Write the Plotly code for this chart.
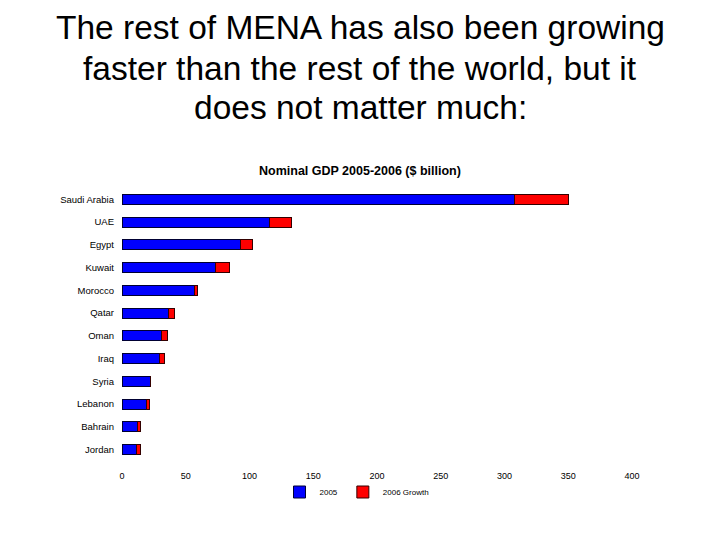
import plotly.graph_objects as go

countries = ["Saudi Arabia", "UAE", "Egypt", "Kuwait", "Morocco", "Qatar",
             "Oman", "Iraq", "Syria", "Lebanon", "Bahrain", "Jordan"]
gdp_2005 = [307.5, 116, 92.8, 73.4, 56.5, 36.6, 31, 29.8, 22.5, 19.1, 12, 11.5]
growth_2006 = [42.5, 17, 9.9, 11, 2.5, 4.6, 4.8, 3.6, 0.2, 2.3, 2.4, 2.9]
x_ticks = [0, 50, 100, 150, 200, 250, 300, 350, 400]
title_lines = ["The rest of MENA has also been growing",
               "faster than the rest of the world, but it",
               "does not matter much:"]

FONT = "Arial, Liberation Sans, sans-serif"
W, H = 712, 532
ML, MR, MT, MB = 114, 88, 180, 79
plot_h = H - MT - MB

fig = go.Figure()
fig.add_trace(go.Bar(
    y=countries, x=gdp_2005, orientation="h", name="2005",
    marker=dict(color="#0000FF", line=dict(color="#000033", width=1)),
))
fig.add_trace(go.Bar(
    y=countries, x=growth_2006, orientation="h", name="2006 Growth",
    marker=dict(color="#FF0000", line=dict(color="#330000", width=1)),
))

annotations = []
for i, (line, ypix) in enumerate(zip(title_lines, [20, 60, 100])):
    annotations.append(dict(
        text=line, xref="paper", yref="paper",
        x=(360 - 8 - ML) / (W - ML - MR), y=1 + (MT - ypix) / plot_h,
        xanchor="center", yanchor="middle", showarrow=False,
        font=dict(size=33.5, family=FONT, color="black"),
    ))
annotations.append(dict(
    text="<b>Nominal GDP 2005-2006 ($ billion)</b>",
    xref="paper", yref="paper", x=(360 - 8 - ML) / (W - ML - MR), y=1 + 17 / plot_h,
    xanchor="center", yanchor="middle", showarrow=False,
    font=dict(size=12.5, family=FONT, color="black"),
))

fig.update_layout(
    barmode="stack",
    bargap=0.55,
    width=W, height=H,
    paper_bgcolor="white", plot_bgcolor="white",
    margin=dict(l=ML, r=MR, t=MT, b=MB, autoexpand=False),
    font=dict(family=FONT, color="black"),
    xaxis=dict(
        range=[0, 400], tickvals=x_ticks, showgrid=False, zeroline=False,
        showline=False, ticks="", tickfont=dict(size=9), automargin=False,
        ticklabelstandoff=8,
    ),
    yaxis=dict(
        categoryorder="array", categoryarray=countries, autorange="reversed",
        showgrid=False, zeroline=False, showline=False, ticks="",
        tickfont=dict(size=9.5), automargin=False, ticklabelstandoff=7,
    ),
    legend=dict(
        orientation="h", x=(357 - 8 - ML) / (W - ML - MR), xanchor="center",
        y=-31 / plot_h, yanchor="middle", bgcolor="rgba(0,0,0,0)",
        font=dict(size=8), itemwidth=30, traceorder="normal",
    ),
    showlegend=True,
    annotations=annotations,
)

fig.write_html("out.html")
